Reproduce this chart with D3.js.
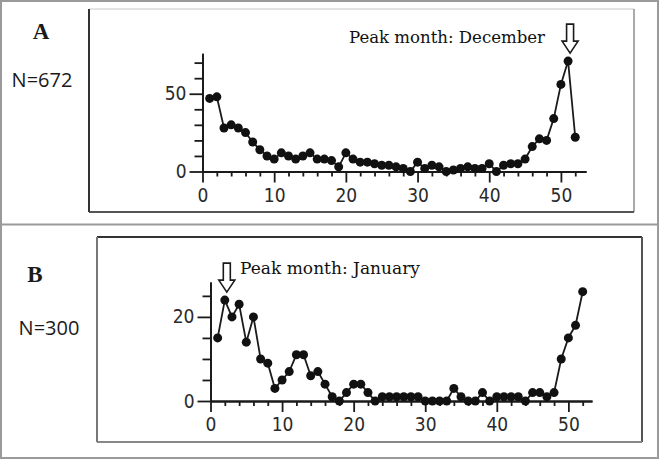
<!DOCTYPE html>
<html>
<head>
	<title> seasonality </title>
	<script src="https://d3js.org/d3.v7.min.js"></script>
	<style>
		body { margin: 0; background: #fff; }
		svg { display: block; }
	</style>
</head>
<body>
	<svg width="660" height="460"></svg>
	<script type="text/javascript">
		let svg = d3.select("svg");

		// week of year (x categories)
		let weeks = [1,2,3,4,5,6,7,8,9,10,11,12,13,14,15,16,17,18,19,20,21,22,23,24,25,26,
		             27,28,29,30,31,32,33,34,35,36,37,38,39,40,41,42,43,44,45,46,47,48,49,50,51,52];
		// panel A, N=672
		let casesA = [47,48,28,30,28,25,19,14,10,8,12,10,8,10,12,8,8,7,3,12,8,6,6,5,4,4,
		              3,2,0,6,2,4,3,0,1,2,3,2,2,5,0,4,5,5,8,16,21,20,34,56,71,22];
		// panel B, N=300
		let casesB = [15,24,20,23,14,20,10,9,3,5,7,11,11,6,7,4,1,0,2,4,4,2,0,1,1,1,
		              1,1,1,0,0,0,0,3,1,0,0,2,0,1,1,1,1,0,2,2,1,2,10,15,18,26];
		let xTicksMajor = [0,10,20,30,40,50];
		let xTicksMinor = [2,4,6,8,12,14,16,18,22,24,26,28,32,34,36,38,42,44,46,48,52];
		let yTicksMajorA = [0,50];
		let yTicksMinorA = [10,20,30,40,60,70];
		let yTicksMajorB = [0,20];
		let yTicksMinorB = [5,10,15,25];
		let labels = ["A", "B"];
		let counts = ["N=672", "N=300"];
		let peaks = ["Peak month: December", "Peak month: January"];
		let peakWeeks = [51, 2];

		const ink = "#1a1a1a";
		const tickFont = "'DejaVu Sans Condensed', 'DejaVu Sans', sans-serif";

		// outer frame and separator
		svg.append("rect").attr("x", 1).attr("y", 1).attr("width", 657).attr("height", 457)
			.attr("fill", "white").attr("stroke", "#9a9a9a").attr("stroke-width", 2);
		svg.append("line").attr("x1", 1).attr("x2", 659).attr("y1", 224.5).attr("y2", 224.5)
			.attr("stroke", "#9a9a9a").attr("stroke-width", 2);

		function draw_box(x0, y0, x1, y1, cTop, cLeft, cRight, cBottom)
		{
			let g = svg.append("g").attr("stroke-width", 2);
			g.append("line").attr("x1", x0).attr("x2", x1).attr("y1", y0).attr("y2", y0).attr("stroke", cTop);
			g.append("line").attr("x1", x1).attr("x2", x1).attr("y1", y0).attr("y2", y1).attr("stroke", cRight);
			g.append("line").attr("x1", x0).attr("x2", x1).attr("y1", y1).attr("y2", y1).attr("stroke", cBottom);
			g.append("line").attr("x1", x0).attr("x2", x0).attr("y1", y0).attr("y2", y1).attr("stroke", cLeft);
		}
		draw_box(89, 9, 634, 212, "#e4e4e4", "#333", "#aaa", "#555");
		draw_box(97, 237, 642, 442, "#333", "#777", "#555", "#888");

		function make_axes(x, y, yMajor, yMinor)
		{
			let g = svg.append("g");
			// minor x ticks
			g.append("g").attr("transform", "translate(0," + y(0) + ")")
				.call(d3.axisBottom(x).tickValues(xTicksMinor).tickSize(5).tickSizeOuter(0).tickFormat(""));
			// major x ticks with labels
			g.append("g").attr("transform", "translate(0," + y(0) + ")")
				.call(d3.axisBottom(x).tickValues(xTicksMajor).tickSize(11).tickPadding(6).tickSizeOuter(0));
			g.append("g").attr("transform", "translate(" + x(0) + ",0)")
				.call(d3.axisLeft(y).tickValues(yMinor).tickSize(8).tickSizeOuter(0).tickFormat(""));
			g.append("g").attr("transform", "translate(" + x(0) + ",0)")
				.call(d3.axisLeft(y).tickValues(yMajor).tickSize(13).tickPadding(3).tickSizeOuter(0));
			g.selectAll("path, line").attr("stroke", ink).attr("stroke-width", 1.8);
			g.selectAll("text").attr("fill", "#2a2a2a").style("font-family", tickFont).style("font-size", "19px");
		}

		function draw_series(x, y, values)
		{
			let line = d3.line().x((d, i) => x(weeks[i])).y(d => y(d));
			svg.append("path").datum(values)
				.attr("fill", "none").attr("stroke", ink).attr("stroke-width", 1.8)
				.attr("d", line);
			svg.append("g").selectAll("circle").data(values).join("circle")
				.attr("cx", (d, i) => x(weeks[i]))
				.attr("cy", d => y(d))
				.attr("r", 4.5)
				.attr("fill", "#111");
		}

		function draw_arrow(cx, tipY)
		{
			// hollow down arrow
			let h = 29, head = 12, sw = 3.5, hw = 8;
			let top = tipY - h;
			let pts = [[cx - sw, top], [cx + sw, top], [cx + sw, tipY - head], [cx + hw, tipY - head],
			           [cx, tipY], [cx - hw, tipY - head], [cx - sw, tipY - head]];
			svg.append("path").attr("d", "M" + pts.join("L") + "Z")
				.attr("fill", "white").attr("stroke", ink).attr("stroke-width", 1.6);
		}

		function draw_panel(k, x, y, values, yMajor, yMinor, labelPos, countPos, peakPos)
		{
			make_axes(x, y, yMajor, yMinor);
			draw_series(x, y, values);
			let pw = peakWeeks[k];
			draw_arrow(x(pw) + 2, y(values[weeks.indexOf(pw)]) - 8);
			svg.append("text").attr("x", labelPos[0]).attr("y", labelPos[1])
				.attr("text-anchor", "middle")
				.style("font-family", "'Liberation Serif', serif").style("font-weight", "bold")
				.style("font-size", "23px").attr("fill", ink).text(labels[k]);
			svg.append("text").attr("x", countPos[0]).attr("y", countPos[1])
				.attr("text-anchor", "middle")
				.style("font-family", "'Open Sans', sans-serif")
				.style("font-size", "20px").attr("fill", ink).text(counts[k]);
			svg.append("text").attr("x", peakPos[0]).attr("y", peakPos[1])
				.attr("textLength", peakPos[2]).attr("lengthAdjust", "spacingAndGlyphs")
				.style("font-family", "'DejaVu Serif', serif")
				.style("font-size", "16px").attr("fill", "#111").text(peaks[k]);
		}

		let xA = d3.scaleLinear().domain([0, 53.5]).range([202.5, 586]);
		let yA = d3.scaleLinear().domain([0, 76]).range([171.5, 53.3]);
		let xB = d3.scaleLinear().domain([0, 53.3]).range([210.5, 592]);
		let yB = d3.scaleLinear().domain([0, 28.3]).range([401, 282]);

		draw_panel(0, xA, yA, casesA, yTicksMajorA, yTicksMinorA, [41, 39], [42, 87], [349, 43, 196]);
		draw_panel(1, xB, yB, casesB, yTicksMajorB, yTicksMinorB, [35, 282], [49, 335], [240, 274, 180]);
	</script>
</body>
</html>
